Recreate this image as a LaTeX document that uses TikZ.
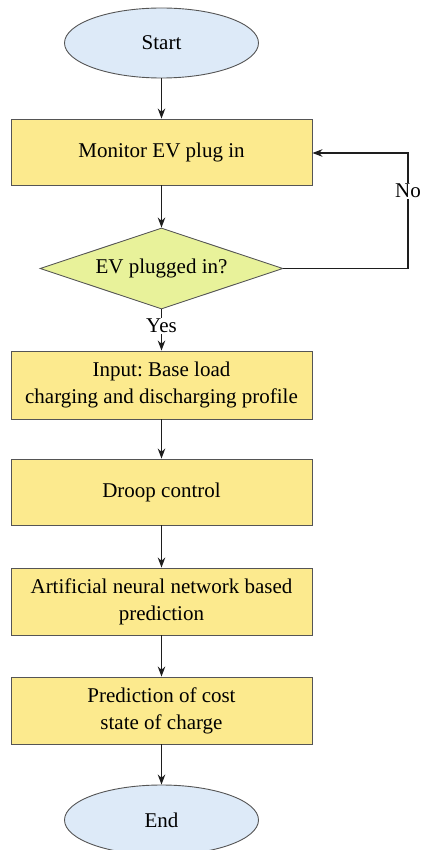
\documentclass[tikz,border=0pt]{standalone}
\usepackage{fontspec}
\setmainfont{Liberation Serif}
\usetikzlibrary{shapes.geometric,arrows.meta}
\definecolor{boxfill}{RGB}{252,234,142}
\definecolor{decfill}{RGB}{232,242,154}
\definecolor{termfill}{RGB}{221,234,248}
\definecolor{edgecol}{RGB}{85,85,85}
\definecolor{linecol}{RGB}{30,30,30}
\frenchspacing
\begin{document}
\begin{tikzpicture}[x=1pt,y=1pt,
  font=\fontsize{21}{27}\selectfont,
  terminal/.style={ellipse,draw=edgecol,line width=0.9pt,fill=termfill,minimum width=194pt,minimum height=70pt,inner sep=0pt},
  process/.style={rectangle,draw=edgecol,line width=0.9pt,fill=boxfill,minimum width=301pt,minimum height=66pt,inner sep=0pt,align=center},
  decision/.style={diamond,draw=edgecol,line width=0.9pt,fill=decfill,minimum width=243pt,minimum height=81pt,inner sep=0pt,aspect=3},
  flow/.style={draw=linecol,line width=1.1pt,-{Stealth[length=10pt,width=7.5pt]}},
  lbl/.style={fill=white,inner sep=1pt}]
\useasboundingbox (0,0) rectangle (420,-850);
\node[terminal] (start) at (161.5,-43) {Start};
\node[process] (monitor) at (161.5,-152) {Monitor EV plug in};
\node[decision] (dec) at (161.5,-268.5) {EV plugged in?};
\node[process,minimum height=68pt] (input) at (161.5,-385) {Input: Base load\\charging and discharging profile};
\node[process] (droop) at (161.5,-492) {Droop control};
\node[process,minimum height=67pt] (ann) at (161.5,-601.5) {Artificial neural network based\\prediction};
\node[process,minimum height=67pt] (pred) at (161.5,-710.5) {Prediction of cost\\state of charge};
\node[terminal] (end) at (161.5,-820) {End};
\coordinate (c1) at (408,-268.5);
\coordinate (c2) at (408,-153);
\draw[flow] (start) -- (monitor);
\draw[flow] (monitor) -- (dec);
\draw[flow] (dec.south) -- node[lbl,pos=0.4]{Yes} (input.north);
\draw[flow] (input) -- (droop);
\draw[flow] (droop) -- (ann);
\draw[flow] (ann) -- (pred);
\draw[flow] (pred) -- (end);
\draw[flow] (dec.east) -- (c1) -- node[lbl,pos=0.67]{No} (c2) -- (monitor.east |- c2);
\end{tikzpicture}
\end{document}
